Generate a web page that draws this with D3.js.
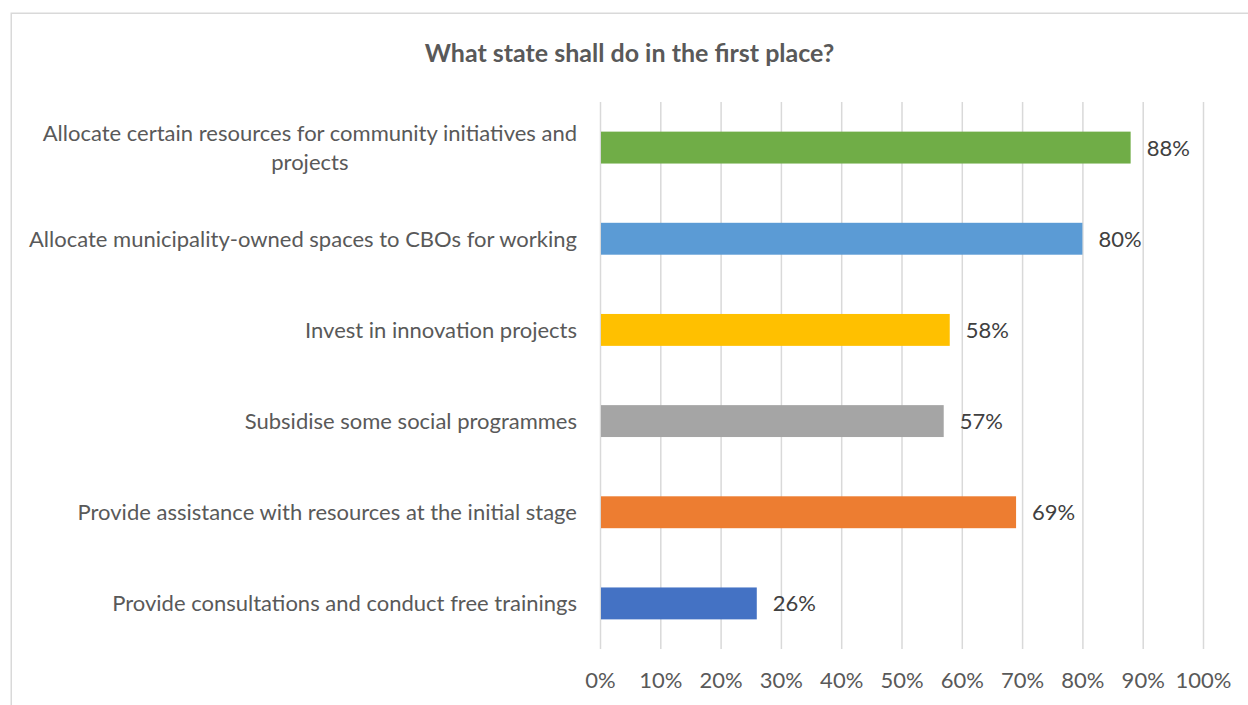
<!DOCTYPE html>
<html>
<head>
<meta charset="utf-8">
<script src="https://cdn.jsdelivr.net/npm/d3@7"></script>
<style>
  html, body { margin: 0; padding: 0; background: #ffffff; }
  svg { display: block; }
  text { font-family: Lato, "Open Sans", sans-serif; }
</style>
</head>
<body>
<svg id="chart" width="1248" height="705"></svg>
<script>
// Survey answers, listed top to bottom as shown
const categories = [
  "Allocate certain resources for community initiatives and\nprojects",
  "Allocate municipality-owned spaces to CBOs for working",
  "Invest in innovation projects",
  "Subsidise some social programmes",
  "Provide assistance with resources at the initial stage",
  "Provide consultations and conduct free trainings"
];
const shares = [0.88, 0.80, 0.58, 0.57, 0.69, 0.26];
const barColors = ["#70AD47", "#5B9BD5", "#FFC000", "#A5A5A5", "#ED7D31", "#4472C4"];
const tickValues = [0, 0.1, 0.2, 0.3, 0.4, 0.5, 0.6, 0.7, 0.8, 0.9, 1.0];
const title = "What state shall do in the first place?";

const W = 1248, H = 705;
const plot = { left: 600, right: 1203, top: 102, bottom: 649 };
const fontSize = 22;

const svg = d3.select("#chart");

// chart area with its light frame
svg.append("rect")
  .attr("x", 11.25).attr("y", 13.25)
  .attr("width", W + 20).attr("height", H + 20)
  .attr("fill", "#ffffff")
  .attr("stroke", "#d9d9d9")
  .attr("stroke-width", 1.5);

svg.append("text")
  .attr("x", 629.5).attr("y", 62)
  .attr("text-anchor", "middle")
  .attr("font-size", 25)
  .attr("font-weight", 700)
  .attr("fill", "#595959")
  .text(title);

const x = d3.scaleLinear().domain([0, 1]).range([plot.left, plot.right]);
const pad = 0.65;
const y = d3.scaleBand()
  .domain(categories)
  .range([plot.top, plot.bottom])
  .paddingInner(pad)
  .paddingOuter(pad / 2);

// vertical gridlines and percent tick labels
const axis = d3.axisBottom(x)
  .tickValues(tickValues)
  .tickFormat(d3.format(".0%"))
  .tickSizeInner(-(plot.bottom - plot.top))
  .tickSizeOuter(0);

const gAxis = svg.append("g")
  .attr("transform", `translate(0,${plot.bottom})`)
  .call(axis);
gAxis.select(".domain").remove();
gAxis.selectAll(".tick line")
  .attr("stroke", "#d9d9d9")
  .attr("stroke-width", 1.5);
gAxis.selectAll(".tick text")
  .attr("y", 39)
  .attr("dy", 0)
  .attr("font-family", "Lato, 'Open Sans', sans-serif")
  .attr("font-size", fontSize)
  .attr("fill", "#595959");

// bars
svg.append("g")
  .selectAll("rect")
  .data(categories)
  .join("rect")
  .attr("x", x(0) + 1)
  .attr("y", d => y(d))
  .attr("width", (d, i) => x(shares[i]) - x(0) - 1)
  .attr("height", y.bandwidth())
  .attr("fill", (d, i) => barColors[i]);

// value labels
svg.append("g")
  .selectAll("text")
  .data(categories)
  .join("text")
  .attr("x", (d, i) => x(shares[i]) + 16)
  .attr("y", d => y(d) + y.bandwidth() / 2)
  .attr("dy", "0.36em")
  .attr("font-size", fontSize)
  .attr("fill", "#404040")
  .text((d, i) => d3.format(".0%")(shares[i]));

// category labels: right-aligned block, wrapped lines centred within it
const labelRight = 577;
const lineGap = 29;
const gLabels = svg.append("g");
categories.forEach(c => {
  const lines = c.split("\n");
  const cy = y(c) + y.bandwidth() / 2;
  const t = gLabels.append("text")
    .attr("font-size", fontSize)
    .attr("fill", "#595959");
  lines.forEach((ln, k) => {
    t.append("tspan").attr("data-k", k).text(ln);
  });
  // measure widest line to centre the lines inside the block
  const widths = [];
  t.selectAll("tspan").each(function () { widths.push(this.getComputedTextLength()); });
  const blockW = d3.max(widths);
  const mid = labelRight - blockW / 2;
  t.selectAll("tspan")
    .attr("text-anchor", "middle")
    .attr("x", mid)
    .attr("y", (d, k) => cy + (k - (lines.length - 1) / 2) * lineGap)
    .attr("dy", "0.36em");
});
</script>
</body>
</html>
